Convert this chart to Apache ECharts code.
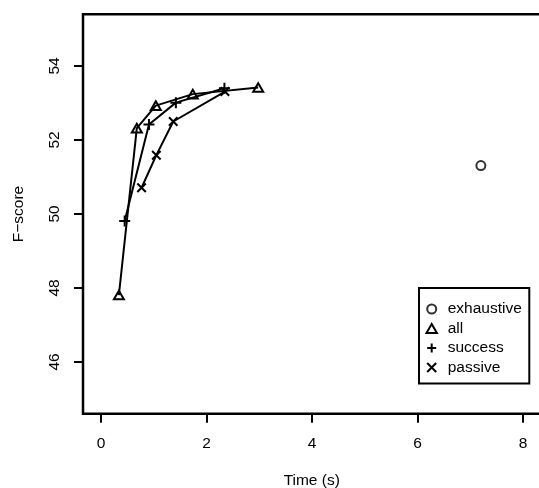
<!DOCTYPE html>
<html><head><meta charset="utf-8">
<script src="https://cdn.jsdelivr.net/npm/echarts@6/dist/echarts.min.js"></script>
<style>html,body{margin:0;padding:0;background:#fff}#c{width:539px;height:488px}</style>
</head><body><div id="c"></div>
<script>
// Data
const exhaustiveX = [7.20];
const exhaustiveY = [51.31];
const allX = [0.34, 0.68, 1.04, 1.74, 2.98];
const allY = [47.81, 52.32, 52.93, 53.24, 53.42];
const successX = [0.45, 0.91, 1.42, 2.34];
const successY = [49.81, 52.42, 53.01, 53.40];
const passiveX = [0.77, 1.05, 1.37, 2.35];
const passiveY = [50.71, 51.59, 52.50, 53.31];
const xTicks = [0, 2, 4, 6, 8];
const yTicks = [46, 48, 50, 52, 54];
const seriesNames = ['exhaustive', 'all', 'success', 'passive'];

const FONT = 'Liberation Sans, Arial, Helvetica, sans-serif';
const SYM = {
  exhaustive: 'circle',
  all: 'path://M5,0L10,8.66L0,8.66Z',
  success: 'path://M0,5L10,5M5,0L5,10',
  passive: 'path://M0,0L10,10M10,0L0,10'
};
const SIZE = {exhaustive: 9, all: 10, success: 11, passive: 8.5};
const zip = (xs, ys) => xs.map((x, i) => [x, ys[i]]);
const markerStyle = {color: 'rgba(0,0,0,0)', borderColor: '#000', borderWidth: 2};

function lineSeries(name, xs, ys) {
  return {
    name, type: 'line', data: zip(xs, ys), symbol: SYM[name], symbolSize: SIZE[name],
    symbolKeepAspect: true, showAllSymbol: true,
    lineStyle: {color: '#000', width: 2}, itemStyle: markerStyle,
    emphasis: {disabled: true}, animation: false, z: 3
  };
}

const chart = echarts.init(document.getElementById('c'), null, {renderer: 'canvas'});
chart.setOption({
  backgroundColor: '#fff',
  animation: false,
  grid: {left: 83, top: 14.2, width: 457.5, height: 399.6, show: true, borderColor: '#000', borderWidth: 2.5,
         backgroundColor: 'transparent', containLabel: false, outerBoundsMode: 'none'},
  xAxis: {
    type: 'value', min: -0.34, max: 8.33,
    name: 'Time (s)', nameLocation: 'middle', nameGap: 59,
    nameTextStyle: {fontFamily: FONT, fontSize: 15.5, color: '#000'},
    axisLine: {show: false, onZero: false}, splitLine: {show: false},
    axisTick: {show: true, customValues: xTicks, length: 9, lineStyle: {color: '#000', width: 2}},
    axisLabel: {customValues: xTicks, margin: 22, fontFamily: FONT, fontSize: 15.5, color: '#000'}
  },
  yAxis: {
    type: 'value', min: 44.6, max: 55.4,
    name: 'F\u2212score', nameLocation: 'middle', nameGap: 56, nameRotate: 90,
    nameTextStyle: {fontFamily: FONT, fontSize: 15.5, color: '#000'},
    axisLine: {show: false, onZero: false}, splitLine: {show: false},
    axisTick: {show: true, customValues: yTicks, length: 9, lineStyle: {color: '#000', width: 2}},
    axisLabel: {customValues: yTicks, rotate: 90, margin: 20, fontFamily: FONT, fontSize: 15.5, color: '#000'}
  },
  legend: {
    show: true, orient: 'vertical', left: 419, top: 288,
    selectedMode: false,
    data: seriesNames.map(n => ({name: n, icon: SYM[n]})),
    itemWidth: 22, itemHeight: 9, itemGap: 3.5,
    itemStyle: {color: 'rgba(0,0,0,0)', borderColor: '#000', borderWidth: 2},
    textStyle: {fontFamily: FONT, fontSize: 15.5, color: '#000'},
    borderColor: '#000', borderWidth: 2, padding: [13, 7.5, 8, 6.5], backgroundColor: '#fff'
  },
  series: [
    {name: 'exhaustive', type: 'scatter', data: zip(exhaustiveX, exhaustiveY), symbol: 'circle', symbolSize: SIZE.exhaustive,
     itemStyle: markerStyle, emphasis: {disabled: true}, z: 3},
    lineSeries('all', allX, allY),
    lineSeries('success', successX, successY),
    lineSeries('passive', passiveX, passiveY)
  ]
});
</script></body></html>
